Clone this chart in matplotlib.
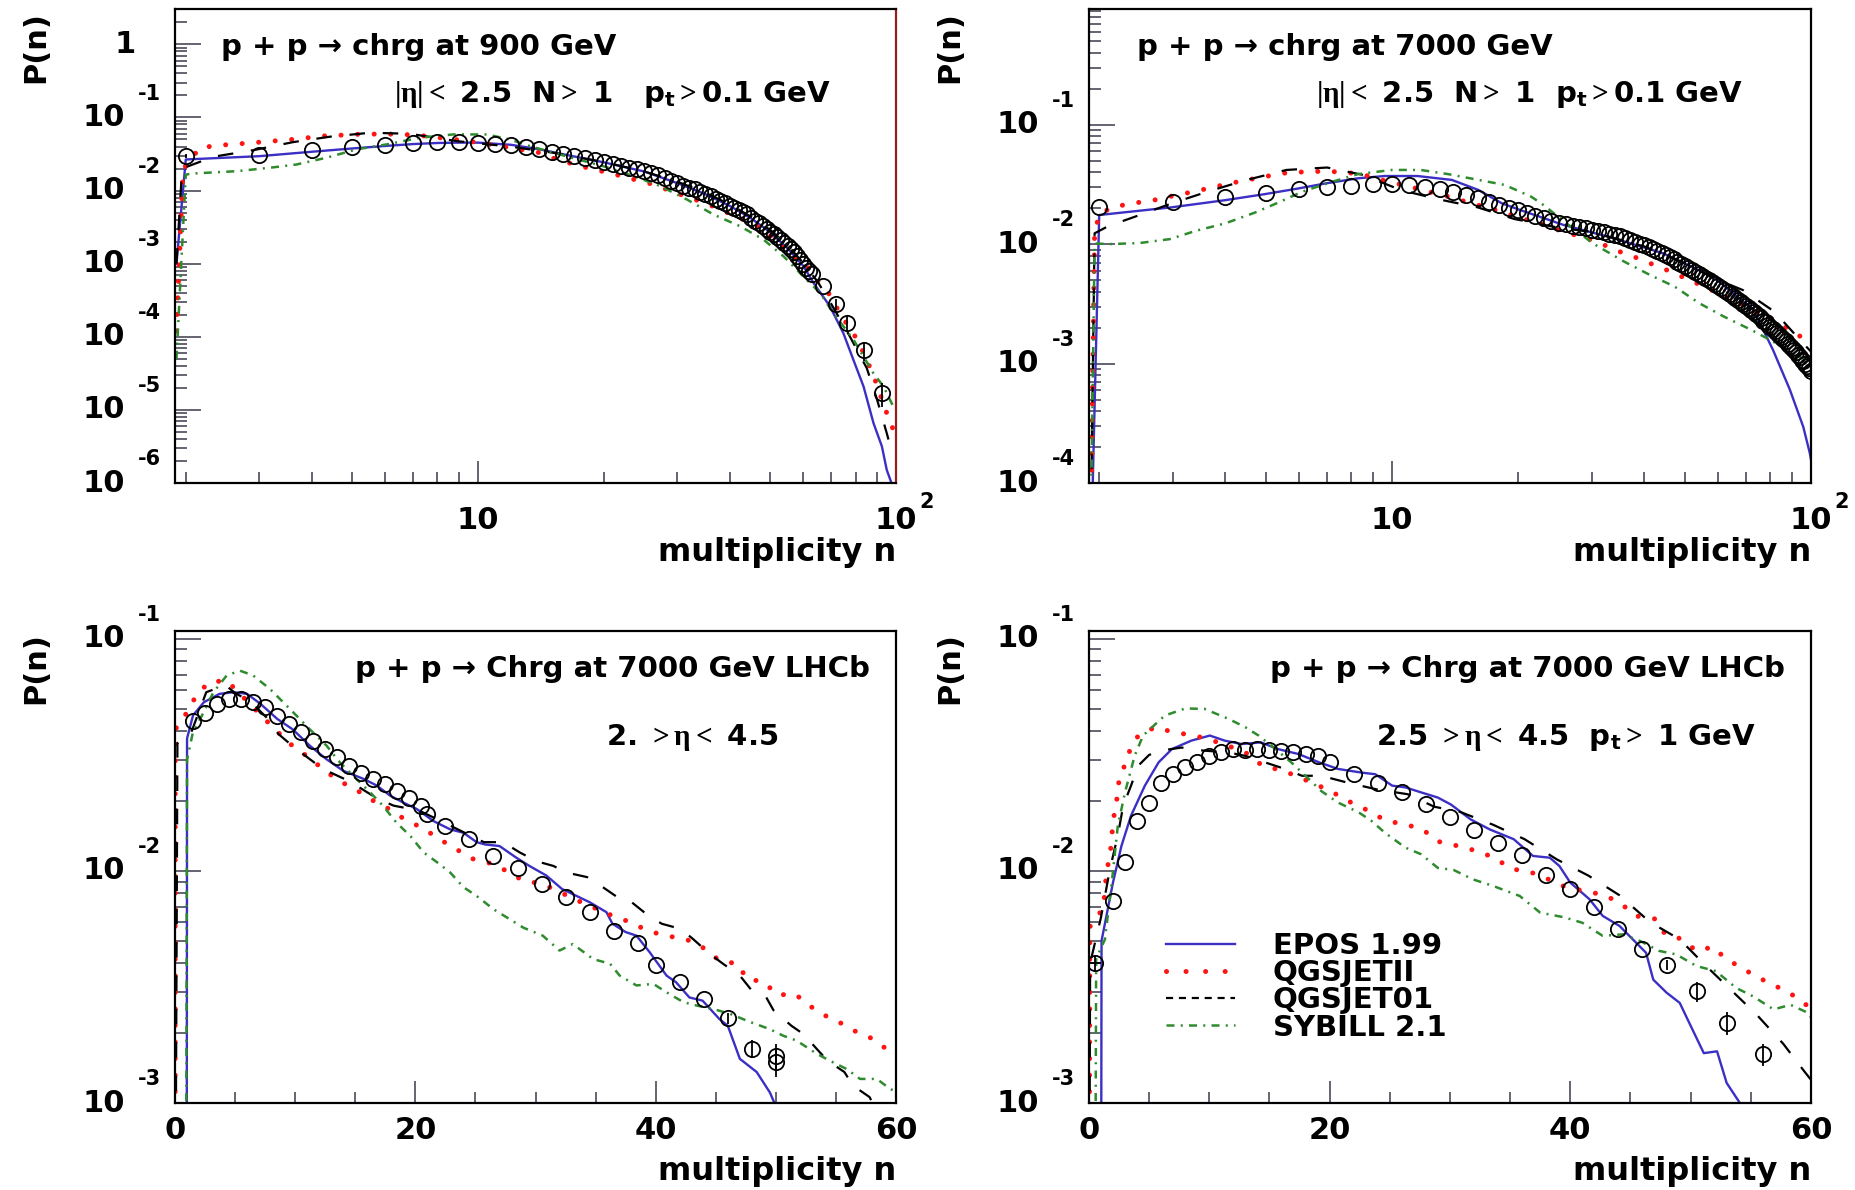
import matplotlib
matplotlib.use("Agg")
import matplotlib.pyplot as plt
from matplotlib.lines import Line2D
from matplotlib.ticker import FixedLocator, LogLocator, MultipleLocator, NullFormatter

plt.rcParams["font.family"] = ["DejaVu Sans"]
plt.rcParams["font.weight"] = "bold"
plt.rcParams["mathtext.fontset"] = "custom"
plt.rcParams["mathtext.rm"] = "Liberation Serif"
plt.rcParams["mathtext.it"] = "Liberation Serif"
plt.rcParams["mathtext.bf"] = "DejaVu Sans:bold"

# ---------------- top-left: p+p 900 GeV, |eta|<2.5 ----------------
tl_data_n = list(range(2, 64)) + [67, 72, 76.5, 83.6, 92.5]
tl_data_p = [0.0295, 0.0311, 0.0356, 0.0392, 0.0413, 0.0441, 0.0459, 0.0459, 0.0450, 0.0437,
             0.0413, 0.0398, 0.0365, 0.0339, 0.0313, 0.0295, 0.0277, 0.0260, 0.0244, 0.0232,
             0.0219, 0.0204, 0.0194, 0.0183, 0.0172, 0.0161, 0.0148, 0.0136, 0.0126, 0.0117,
             0.0110, 0.0105, 0.00955, 0.00891, 0.00832, 0.00776, 0.00724, 0.00676, 0.00617, 0.00569,
             0.00537, 0.00507, 0.00473, 0.00427, 0.00389, 0.00359, 0.00331, 0.00302, 0.00275, 0.00251,
             0.00229, 0.00209, 0.00191, 0.00174, 0.00158, 0.00145, 0.00129, 0.00112, 0.00100, 0.00087,
             0.00079, 0.00072, 0.00050, 0.00028, 0.000155, 0.000066, 0.000017]
tl_err_n = [2, 72, 76.5, 83.6, 92.5]
tl_err_p = [0.0295, 0.00028, 0.000155, 0.000066, 0.000017]
tl_err = [0.002, 0.00005, 0.00004, 0.00002, 0.000006]

tl_epos_n = [1.9, 2, 3, 4, 5, 6, 7, 8, 9, 10, 12, 14, 16, 20, 25, 30, 35, 40, 45, 50, 55, 60,
             63.4, 69.5, 74.8, 79.1, 83.6, 88.3, 92.5, 95, 98.2]
tl_epos_p = [1e-3, 0.0266, 0.0295, 0.0339, 0.0376, 0.0407, 0.0432, 0.0447, 0.0452, 0.0452, 0.0422,
             0.0367, 0.0313, 0.0243, 0.0182, 0.0126, 0.00891, 0.00617, 0.00417, 0.00269, 0.00162,
             0.00093, 0.00055, 0.00026, 0.000112, 4.79e-5, 2.09e-5, 6.6e-6, 3.16e-6, 1.51e-6, 8.9e-7]
tl_qgs2_n = [1.9, 1.97, 2.16, 2.42, 2.70, 3.01, 3.36, 3.75, 4.19, 4.68, 5.22, 5.83, 6.51, 7.27,
             9.06, 10.1, 11.3, 12.6, 14.1, 15.4, 18.0, 21.3, 23.7, 26.3, 29.0, 32.2, 35.6, 39.6,
             44.0, 48.1, 52.8, 56.8, 61.8, 65.3, 69.4, 73.3, 81.2, 88.2, 94.1, 96.9, 99.4]
tl_qgs2_p = [1.2e-4, 0.0194, 0.0385, 0.0417, 0.0437, 0.0459, 0.0484, 0.0510, 0.0555, 0.0571,
             0.0589, 0.0592, 0.0589, 0.0566, 0.0489, 0.0450, 0.0405, 0.0365, 0.0328, 0.0266,
             0.0209, 0.0166, 0.0141, 0.0121, 0.00977, 0.00794, 0.00646, 0.00495, 0.0038, 0.00295,
             0.00182, 0.00120, 0.00087, 0.00055, 0.000376, 0.000211, 8.71e-5, 3.02e-5, 1.05e-5,
             6.6e-6, 4.8e-6]
tl_qgs1_n = [1.9, 1.96, 2.33, 2.90, 3.61, 4.43, 5.52, 6.87, 8.9, 12, 15, 20, 25, 30, 35, 40, 45,
             50, 55, 60, 65, 70, 77.6, 85.1, 90, 95, 98]
tl_qgs1_p = [1e-3, 0.0200, 0.0290, 0.0356, 0.0459, 0.0545, 0.0617, 0.0597, 0.0474, 0.0398, 0.0331,
             0.0245, 0.0182, 0.0132, 0.00933, 0.00646, 0.00437, 0.00288, 0.00178, 0.00102, 0.00056,
             0.00028, 0.0001, 3.72e-5, 1.4e-5, 4.8e-6, 2.5e-6]
tl_syb_n = [1.9, 2.0, 2.08, 2.65, 3.18, 3.68, 4.34, 5.12, 6.04, 7.26, 8.71, 10.5, 11.9, 13.3, 16,
            20, 23.5, 27.3, 31.6, 36.6, 42.4, 48.2, 53.8, 60.0, 65.8, 70.8, 79.1, 88.3, 93.3, 98.5]
tl_syb_p = [5e-5, 0.0165, 0.0171, 0.0184, 0.0205, 0.0227, 0.0281, 0.0365, 0.0427, 0.0526, 0.0585,
            0.0585, 0.0501, 0.0405, 0.0302, 0.0214, 0.0158, 0.0115, 0.00754, 0.00469, 0.00324,
            0.00213, 0.00126, 0.00067, 0.000398, 0.000211, 9.12e-5, 3.16e-5, 2.09e-5, 1.11e-5]

# ---------------- top-right: p+p 7000 GeV, |eta|<2.5 ----------------
tr_data_n = list(range(2, 101))
tr_data_p = [0.0205, 0.0226, 0.0249, 0.0270, 0.0288, 0.0302, 0.0309, 0.0316, 0.0316, 0.0313,
             0.0302, 0.0288, 0.0274, 0.0257, 0.0241, 0.0226, 0.0212, 0.0200, 0.0191, 0.0181,
             0.0172, 0.0164, 0.0157, 0.0151, 0.0146, 0.0142, 0.0138, 0.0135, 0.0131, 0.0128,
             0.0125, 0.0122, 0.0120, 0.0116, 0.0112, 0.0108, 0.0105, 0.0101, 0.00977, 0.00940,
             0.00904, 0.00869, 0.00836, 0.00804, 0.00773, 0.00743, 0.00714, 0.00687, 0.00661, 0.00635,
             0.00611, 0.00587, 0.00565, 0.00543, 0.00522, 0.00502, 0.00483, 0.00465, 0.00447, 0.00430,
             0.00413, 0.00397, 0.00382, 0.00367, 0.00353, 0.00340, 0.00327, 0.00314, 0.00302, 0.00290,
             0.00279, 0.00268, 0.00258, 0.00248, 0.00239, 0.00229, 0.00221, 0.00212, 0.00204, 0.00196,
             0.00188, 0.00180, 0.00173, 0.00166, 0.00159, 0.00153, 0.00147, 0.00141, 0.00135, 0.00129,
             0.00124, 0.00118, 0.00113, 0.00108, 0.00104, 0.00099, 0.00095, 0.00091, 0.00087]

tr_epos_n = [1.9, 2, 2.98, 4.0, 4.98, 5.98, 6.95, 8.3, 9.6, 11.5, 13.9, 16.1, 18.3, 20.2, 25.6,
             33.8, 44.4, 58.4, 72.9, 81.2, 89.1, 95.9, 99.4, 100]
tr_epos_p = [1e-5, 0.0175, 0.0203, 0.0233, 0.0262, 0.0292, 0.0322, 0.0355, 0.0371, 0.0371, 0.0344,
             0.0283, 0.0219, 0.0193, 0.0145, 0.0112, 0.00836, 0.00532, 0.00282, 0.0013, 0.000603,
             0.000295, 0.000178, 0.000158]
tr_qgs2_n = [1.9, 1.95, 2.0, 2.14, 2.4, 2.7, 2.98, 3.3, 3.7, 4.1, 4.6, 5.1, 5.6, 6.3, 7.0, 7.9, 8.8,
             9.8, 10.8, 12.0, 13.4, 15.0, 16.6, 18.3, 20.4, 22.5, 25.0, 27.8, 30.8, 34.1, 37.8, 41.7,
             46.2, 50.8, 56.1, 61.9, 68.2, 74.3, 81.8, 89.6, 98.8, 100]
tr_qgs2_p = [1e-5, 0.0126, 0.0175, 0.0203, 0.0219, 0.0233, 0.0252, 0.0271, 0.0296, 0.0322, 0.0348,
             0.0373, 0.0395, 0.0403, 0.0407, 0.0395, 0.0371, 0.0332, 0.0308, 0.0279, 0.0254, 0.0226,
             0.0205, 0.0186, 0.0164, 0.0149, 0.0131, 0.0117, 0.0105, 0.00891, 0.00783, 0.00681,
             0.00589, 0.00507, 0.00435, 0.00367, 0.00315, 0.00268, 0.00231, 0.00187, 0.00154, 0.00151]
tr_qgs1_n = [1.9, 1.95, 2.1, 2.43, 2.98, 3.67, 4.5, 5.6, 7.0, 8.5, 10.5, 12.9, 16.0, 19.6, 24.7, 30,
             40, 50, 60, 68.8, 81.8, 94.1, 100]
tr_qgs1_p = [1e-5, 0.0123, 0.0141, 0.0169, 0.0219, 0.0278, 0.0344, 0.0417, 0.0437, 0.0380, 0.0283,
             0.0237, 0.0203, 0.0162, 0.0138, 0.0126, 0.00955, 0.00692, 0.00501, 0.00412, 0.00272,
             0.00158, 0.00126]
tr_syb_n = [1.9, 1.95, 2.14, 2.5, 2.95, 3.4, 4.0, 4.7, 5.3, 6.1, 7.2, 8.3, 10.0, 11.7, 13.6, 16.1,
            18.6, 21.5, 23.0, 26.1, 30.2, 35.8, 41.3, 47.3, 54.2, 62.0, 72.1, 81.4, 91.3, 98.8, 100]
tr_syb_p = [1e-5, 0.0101, 0.0100, 0.0102, 0.0110, 0.0129, 0.0149, 0.0183, 0.0219, 0.0274, 0.0332,
            0.0385, 0.0417, 0.0417, 0.0385, 0.0344, 0.0312, 0.0249, 0.0212, 0.0149, 0.0101, 0.00714,
            0.00551, 0.00440, 0.00319, 0.00247, 0.00191, 0.00152, 0.00117, 0.00107, 0.00105]

# ---------------- bottom-left: LHCb 2 < eta < 4.5 ----------------
bl_data_n = [1.5, 2.5, 3.5, 4.5, 5.5, 6.5, 7.5, 8.5, 9.5, 10.5, 11.5, 12.5, 13.5, 14.5, 15.5, 16.5,
             17.5, 18.5, 19.5, 20.5, 21.0, 22.5, 24.5, 26.5, 28.5, 30.5, 32.5, 34.5, 36.5, 38.5,
             40, 42, 44, 46, 48, 50, 50]
bl_data_p = [0.0444, 0.0480, 0.0524, 0.0550, 0.0550, 0.0533, 0.0507, 0.0467, 0.0430, 0.0395,
             0.0364, 0.0335, 0.0309, 0.0284, 0.0265, 0.0249, 0.0237, 0.0221, 0.0207, 0.0191,
             0.0176, 0.0156, 0.0137, 0.0116, 0.0103, 0.00879, 0.00771, 0.00668, 0.00553, 0.0049,
             0.00394, 0.00333, 0.00282, 0.00232, 0.00171, 0.0016, 0.0015]
bl_err_n = [46, 48, 50, 50]
bl_err_p = [0.00232, 0.00171, 0.0016, 0.0015]
bl_err = [0.00012, 0.00015, 0.0002, 0.0002]

bl_epos_n = [0.97, 1.0, 1.5, 2.4, 3.7, 4.85, 6.0, 7.1, 8.5, 9.8, 11.2, 12.6, 14.0, 15.7, 16.8, 17.9,
             19.0, 20.1, 21.5, 22.9, 24.0, 25.1, 25.8, 27.0, 28.4, 29.5, 30.9, 32.2, 34.5, 35.9,
             36.4, 37.5, 38.4, 39.5, 40.9, 41.7, 42.8, 43.9, 45.3, 46.0, 47.0, 48.4, 49.5, 50.3]
bl_epos_p = [1e-4, 0.0372, 0.0468, 0.0533, 0.0579, 0.0589, 0.0579, 0.0525, 0.0452, 0.0407,
             0.0347, 0.0303, 0.0270, 0.0249, 0.0233, 0.0211, 0.0197, 0.0185, 0.0164, 0.0151,
             0.0146, 0.0133, 0.0130, 0.0128, 0.0114, 0.0105, 0.00955, 0.00836, 0.00733, 0.00664,
             0.00592, 0.00545, 0.00526, 0.00446, 0.00354, 0.00331, 0.00285, 0.00276, 0.00230,
             0.00215, 0.00155, 0.00136, 0.00111, 0.00089]
bl_qgs2_n = [0, 0.02, 1.0, 1.7, 2.8, 4.3, 5.4, 7.6, 9.5, 11.1, 12.3, 13.6, 15.0, 16.4, 17.8, 19.1,
             20.7, 21.9, 23.3, 24.7, 26.2, 27.6, 29.0, 30.6, 33.5, 36.4, 37.9, 39.3, 40.8, 42.5,
             44.0, 45.3, 46.8, 47.6, 49.0, 50.1, 51.6, 52.6, 53.8, 55.2, 56.5, 57.8, 59.2, 60]
bl_qgs2_p = [1e-4, 0.0407, 0.0482, 0.0562, 0.0650, 0.0661, 0.0579, 0.0444, 0.0355, 0.0309,
             0.0275, 0.0245, 0.0225, 0.0202, 0.0185, 0.0167, 0.0152, 0.0138, 0.0125, 0.0113,
             0.0108, 0.0100, 0.00906, 0.00879, 0.00745, 0.00641, 0.00601, 0.00553, 0.00526, 0.00509,
             0.00465, 0.00411, 0.00398, 0.00342, 0.00333, 0.00292, 0.00295, 0.00267, 0.00242,
             0.00224, 0.00205, 0.00192, 0.00171, 0.00166]
bl_qgs1_n = [0, 0.2, 1.25, 2.6, 4.2, 5.1, 6.2, 7.6, 8.6, 9.9, 11.0, 12.3, 14.1, 15.1, 16.9, 18.2,
             20.3, 21.5, 25.7, 27.3, 28.7, 30.1, 31.5, 32.5, 34.3, 35.4, 36.8, 38.0, 39.2, 40.5,
             42.1, 43.1, 44.5, 45.6, 47.0, 48.0, 49.2, 49.8, 51.3, 52.3, 53.4, 54.3, 55.7, 56.4,
             57.8, 58.5]
bl_qgs1_p = [1e-4, 0.0355, 0.0383, 0.0589, 0.0631, 0.0579, 0.0542, 0.0459, 0.0389, 0.0341,
             0.0309, 0.0275, 0.0249, 0.0233, 0.0204, 0.0191, 0.0182, 0.0170, 0.0133, 0.0133,
             0.0120, 0.0110, 0.0105, 0.00986, 0.00940, 0.00865, 0.00771, 0.00733, 0.00653, 0.00592,
             0.00562, 0.00509, 0.00439, 0.00398, 0.00354, 0.00305, 0.00285, 0.00251, 0.00215,
             0.00198, 0.00171, 0.00152, 0.00136, 0.00119, 0.00106, 0.00089]
bl_syb_n = [0.9, 1.0, 1.5, 2.1, 3.2, 4.3, 5.4, 6.5, 7.9, 9.0, 10.1, 11.2, 12.6, 13.7, 15.1, 16.2,
            17.3, 18.4, 19.6, 20.7, 21.8, 22.9, 24.0, 25.1, 26.5, 27.9, 29.0, 30.6, 32.0, 33.1,
            34.8, 36.2, 37.0, 38.4, 39.8, 40.9, 42.3, 43.4, 44.8, 46.2, 47.9, 49.5, 50.6, 51.7,
            53.4, 54.5, 55.9, 57.0, 58.4, 59.5, 60]
bl_syb_p = [1e-4, 0.0302, 0.0398, 0.0452, 0.0589, 0.0695, 0.0729, 0.0695, 0.0608, 0.0533,
            0.0467, 0.0408, 0.0347, 0.0294, 0.0249, 0.0219, 0.0191, 0.0162, 0.0141, 0.0120,
            0.0109, 0.00984, 0.00851, 0.00780, 0.00684, 0.00617, 0.00569, 0.00526, 0.00454, 0.00484,
            0.00417, 0.00398, 0.00354, 0.00321, 0.00326, 0.00300, 0.00272, 0.00263, 0.00254,
            0.00242, 0.00223, 0.00208, 0.00195, 0.00186, 0.00163, 0.00152, 0.00140, 0.00127,
            0.00127, 0.00115, 0.00112]

# ---------------- bottom-right: LHCb 2.5 < eta < 4.5, pt > 1 GeV ----------------
br_data_n = [0.5, 2, 3, 4, 5, 6, 7, 8, 9, 10, 11, 12, 13, 14, 15, 16, 17, 18, 19, 20,
             22, 24, 26, 28, 30, 32, 34, 36, 38, 40, 42, 44, 46, 48, 50.5, 53, 56]
br_data_p = [0.00402, 0.00741, 0.0109, 0.0164, 0.0197, 0.0240, 0.0261, 0.0279, 0.0295, 0.0313,
             0.0324, 0.0335, 0.0333, 0.0335, 0.0331, 0.0329, 0.0326, 0.0319, 0.0313, 0.0294,
             0.0261, 0.0240, 0.0219, 0.0194, 0.0170, 0.0150, 0.0132, 0.0117, 0.00957, 0.00832,
             0.00700, 0.00560, 0.00459, 0.00395, 0.00303, 0.00221, 0.00162]
br_err_n = [0.5, 48, 50.5, 53, 56]
br_err_p = [0.00402, 0.00395, 0.00303, 0.00221, 0.00162]
br_err = [0.0003, 0.0002, 0.0003, 0.00025, 0.00018]
br_xerr = [0.5, 0, 0, 0, 0]

br_epos_n = [1.0, 1.05, 2.0, 2.7, 3.5, 4.65, 5.8, 6.9, 8.5, 10.05, 11.3, 12.7, 14.3, 15.7, 17.4,
             19.1, 20.7, 22.7, 23.8, 25.2, 26.3, 27.6, 29.0, 30.1, 31.7, 33.3, 35.3, 36.9, 38.3,
             39.1, 40.0, 41.6, 42.7, 44.1, 45.2, 46.3, 46.9, 48.0, 49.1, 49.9, 51.1, 52.2, 53.0,
             54.1, 54.6]
br_epos_p = [1e-4, 0.0050, 0.00891, 0.0128, 0.0173, 0.0233, 0.0294, 0.0335, 0.0364, 0.0383,
             0.0364, 0.0352, 0.0358, 0.0335, 0.0319, 0.0294, 0.0275, 0.0265, 0.0261, 0.0233,
             0.0229, 0.0218, 0.0207, 0.0193, 0.0167, 0.0151, 0.0137, 0.0116, 0.0114, 0.0105,
             0.00891, 0.00755, 0.00640, 0.00579, 0.00507, 0.00444, 0.00340, 0.00299, 0.00270,
             0.00221, 0.00164, 0.00167, 0.00122, 0.0010, 0.00087]
br_qgs2_n = [0, 0.08, 1.2, 1.47, 1.75, 1.9, 2.0, 2.3, 2.4, 2.9, 3.4, 4.1, 5.5, 7.1, 8.8, 11.0,
             13.0, 14.5, 16.0, 17.5, 19.1, 20.4, 21.8, 23.4, 24.7, 26.3, 27.8, 29.0, 30.7, 32.2,
             33.7, 35.1, 36.6, 38.2, 39.7, 41.2, 42.9, 44.3, 45.4, 47.0, 47.9, 49.2, 50.5, 51.9,
             52.8, 54.2, 55.5, 56.8, 58.2, 59.6, 60]
br_qgs2_p = [1e-4, 0.00575, 0.00692, 0.0100, 0.0116, 0.0139, 0.0164, 0.0197, 0.0233, 0.0279,
             0.0330, 0.0383, 0.0416, 0.0395, 0.0383, 0.0355, 0.0324, 0.0282, 0.0272, 0.0253,
             0.0233, 0.0216, 0.0197, 0.0180, 0.0164, 0.0159, 0.0150, 0.0134, 0.0128, 0.0122,
             0.0114, 0.0102, 0.00993, 0.00920, 0.00847, 0.00820, 0.00785, 0.00718, 0.00640,
             0.00622, 0.00533, 0.00510, 0.00452, 0.00471, 0.00423, 0.00383, 0.00350, 0.00324,
             0.00299, 0.00265, 0.00263]
br_qgs1_n = [0, 0.1, 1.0, 1.75, 2.4, 2.85, 3.5, 4.1, 5.0, 6.0, 7.7, 9.5, 11.6, 13.0, 14.5, 16.3,
             17.7, 19.3, 21.5, 24.0, 26.5, 28.7, 30.8, 33.6, 36.2, 38.9, 41.5, 44.1, 46.6, 49.1,
             51.1, 53.3, 55.5, 57.7, 59.4, 60]
br_qgs1_p = [1e-4, 0.0040, 0.0063, 0.0102, 0.0142, 0.0191, 0.0233, 0.0284, 0.0316, 0.0330,
             0.0340, 0.0330, 0.0324, 0.0313, 0.0295, 0.0275, 0.0257, 0.0257, 0.0240, 0.0224,
             0.0214, 0.0189, 0.0180, 0.0158, 0.0137, 0.0112, 0.00955, 0.00785, 0.00603, 0.00507,
             0.00398, 0.00309, 0.00240, 0.00180, 0.00138, 0.00126]
br_syb_n = [0.5, 0.6, 1.33, 1.9, 2.4, 3.0, 3.8, 4.5, 6.3, 8.0, 9.6, 11.6, 13.0, 14.1, 15.5, 16.8,
            18.0, 19.3, 20.7, 22.4, 23.5, 24.6, 26.3, 27.6, 29.0, 30.3, 31.9, 33.6, 35.8, 37.5,
            39.5, 41.0, 42.7, 44.4, 45.8, 47.4, 48.8, 50.5, 52.1, 53.8, 55.2, 56.9, 58.3, 59.8, 60]
br_syb_p = [1e-4, 0.00417, 0.00507, 0.00891, 0.0156, 0.0218, 0.0313, 0.0383, 0.0467, 0.0501,
            0.0499, 0.0452, 0.0416, 0.0383, 0.0335, 0.0294, 0.0257, 0.0221, 0.0197, 0.0179,
            0.0164, 0.0146, 0.0126, 0.0118, 0.0103, 0.0101, 0.00920, 0.00861, 0.00780, 0.00661,
            0.00631, 0.00598, 0.00525, 0.00533, 0.00499, 0.00452, 0.00437, 0.00389, 0.00370,
            0.00313, 0.00288, 0.00253, 0.00265, 0.00244, 0.00234]

model_names = ["EPOS 1.99", "QGSJETII", "QGSJET01", "SYBILL 2.1"]

# ---------------- styles ----------------
TICK = "#3a3a4a"
STY = [
    dict(color="#3b2fc4", lw=1.7, ls="-"),
    dict(color="#ff1414", lw=3.6, ls=(0, (0.01, 3.3)), dash_capstyle="round"),
    dict(color="black", lw=1.6, ls=(0, (7, 8))),
    dict(color="#2e8b2e", lw=1.8, ls=(0, (3.2, 2.5, 0.8, 2.5))),
]
LEG_STY = [
    dict(color="#3b2fc4", lw=1.7, ls="-"),
    dict(color="#ff1414", lw=3.6, ls=(0, (0.01, 3.9)), dash_capstyle="round"),
    dict(color="black", lw=1.6, ls=(0, (3.2, 2.6))),
    dict(color="#2e8b2e", lw=1.8, ls=(0, (3.2, 2.5, 0.8, 2.5))),
]


def frame(ax, logx, xlim, ylim):
    ax.set_yscale("log")
    if logx:
        ax.set_xscale("log")
        ax.xaxis.set_major_locator(FixedLocator([10, 100]))
        ax.xaxis.set_minor_locator(LogLocator(base=10, subs=range(2, 10), numticks=20))
        ax.xaxis.set_major_formatter(NullFormatter())
        ax.xaxis.set_minor_formatter(NullFormatter())
    else:
        ax.xaxis.set_major_locator(MultipleLocator(20))
        ax.xaxis.set_minor_locator(MultipleLocator(5))
        ax.tick_params(axis="x", labelsize=22, pad=9)
    ax.set_xlim(*xlim)
    ax.set_ylim(*ylim)
    ax.yaxis.set_major_locator(LogLocator(base=10, numticks=20))
    ax.yaxis.set_minor_locator(LogLocator(base=10, subs=range(2, 10), numticks=20))
    ax.yaxis.set_major_formatter(NullFormatter())
    ax.yaxis.set_minor_formatter(NullFormatter())
    ax.tick_params(which="both", direction="in", top=False, right=False, color=TICK, width=1.1)
    ax.tick_params(axis="y", which="major", length=19)
    ax.tick_params(axis="y", which="minor", length=8.5)
    ax.tick_params(axis="x", which="major", length=16)
    ax.tick_params(axis="x", which="minor", length=8)
    for s in ax.spines.values():
        s.set_linewidth(1.6)
    ax.text(-0.193, 0.997, "P(n)", transform=ax.transAxes, rotation=90, ha="center", va="top",
            fontsize=22)
    ax.text(1.0, -0.146, "multiplicity n", transform=ax.transAxes, ha="right", va="center",
            fontsize=23)


def ylabels(ax, decades):
    for d in decades:
        kw = dict(xycoords=("axes fraction", "data"), textcoords="offset points",
                  va="center", ha="right", annotation_clip=False)
        if d == 0:
            ax.annotate("1", xy=(0, 1.0), xytext=(-28, 0), fontsize=22, **kw)
        else:
            ax.annotate("10", xy=(0, 10.0 ** d), xytext=(-36, 0), fontsize=22, **kw)
            ax.annotate(str(d), xy=(0, 10.0 ** d), xytext=(-10, 17), fontsize=15, **kw)


def xlabels_log(ax):
    kw = dict(xycoords=("data", "axes fraction"), textcoords="offset points",
              va="center", ha="center", annotation_clip=False)
    ax.annotate("10", xy=(10, 0), xytext=(0, -27), fontsize=22, **kw)
    ax.annotate("10", xy=(100, 0), xytext=(0, -27), fontsize=22, **kw)
    ax.annotate("2", xy=(100, 0), xytext=(22, -14), fontsize=15, **kw)


def draw(ax, models, dn, dp, en, ep, ey, ex=None):
    for (n, p), st in zip(models, STY):
        ax.plot(n, p, zorder=2, **st)
    ax.plot(dn, dp, "o", ms=11, mfc="none", mec="black", mew=1.3, zorder=3)
    ax.errorbar(en, ep, yerr=ey, xerr=ex, fmt="none", ecolor="black", elinewidth=1.3,
                capsize=0, zorder=3)


fig = plt.figure(figsize=(18.56, 11.90), dpi=100)
ax_tl = fig.add_axes([0.0943, 0.5941, 0.3885, 0.3980])
ax_tr = fig.add_axes([0.5867, 0.5941, 0.3890, 0.3980])
ax_bl = fig.add_axes([0.0943, 0.0731, 0.3885, 0.3966])
ax_br = fig.add_axes([0.5867, 0.0731, 0.3890, 0.3966])

# top-left
draw(ax_tl, [(tl_epos_n, tl_epos_p), (tl_qgs2_n, tl_qgs2_p), (tl_qgs1_n, tl_qgs1_p),
             (tl_syb_n, tl_syb_p)], tl_data_n, tl_data_p, tl_err_n, tl_err_p, tl_err)
frame(ax_tl, True, (1.885, 100), (1e-6, 3.0))
ylabels(ax_tl, [0, -1, -2, -3, -4, -5, -6])
xlabels_log(ax_tl)
ax_tl.spines["right"].set_color("#9a1c1c")
ax_tl.text(0.064, 0.92, "p + p \u2192 chrg at 900 GeV", transform=ax_tl.transAxes,
           ha="left", va="center", fontsize=21)
ax_tl.text(0.304, 0.82, r"$|\eta| <$ 2.5  N$>$ 1   $\mathbf{p_t}>$0.1 GeV",
           transform=ax_tl.transAxes, ha="left", va="center", fontsize=21)

# top-right
draw(ax_tr, [(tr_epos_n, tr_epos_p), (tr_qgs2_n, tr_qgs2_p), (tr_qgs1_n, tr_qgs1_p),
             (tr_syb_n, tr_syb_p)], tr_data_n, tr_data_p, [], [], [])
frame(ax_tr, True, (1.89, 100), (1e-4, 0.92))
ylabels(ax_tr, [-1, -2, -3, -4])
xlabels_log(ax_tr)
ax_tr.text(0.066, 0.92, "p + p \u2192 chrg at 7000 GeV", transform=ax_tr.transAxes,
           ha="left", va="center", fontsize=21)
ax_tr.text(0.315, 0.82, r"$|\eta| <$ 2.5  N$>$ 1  $\mathbf{p_t}>$0.1 GeV",
           transform=ax_tr.transAxes, ha="left", va="center", fontsize=21)

# bottom-left
draw(ax_bl, [(bl_epos_n, bl_epos_p), (bl_qgs2_n, bl_qgs2_p), (bl_qgs1_n, bl_qgs1_p),
             (bl_syb_n, bl_syb_p)], bl_data_n, bl_data_p, bl_err_n, bl_err_p, bl_err)
frame(ax_bl, False, (0, 60), (1e-3, 0.108))
ylabels(ax_bl, [-1, -2, -3])
ax_bl.text(0.25, 0.92, "p + p \u2192 Chrg at 7000 GeV LHCb", transform=ax_bl.transAxes,
           ha="left", va="center", fontsize=21)
ax_bl.text(0.598, 0.774, r"2. $> \eta <$ 4.5", transform=ax_bl.transAxes,
           ha="left", va="center", fontsize=21)

# bottom-right
draw(ax_br, [(br_epos_n, br_epos_p), (br_qgs2_n, br_qgs2_p), (br_qgs1_n, br_qgs1_p),
             (br_syb_n, br_syb_p)], br_data_n, br_data_p, br_err_n, br_err_p, br_err, br_xerr)
frame(ax_br, False, (0, 60), (1e-3, 0.108))
ylabels(ax_br, [-1, -2, -3])
ax_br.text(0.251, 0.92, "p + p \u2192 Chrg at 7000 GeV LHCb", transform=ax_br.transAxes,
           ha="left", va="center", fontsize=21)
ax_br.text(0.398, 0.774, r"2.5 $> \eta <$ 4.5  $\mathbf{p_t} >$ 1 GeV",
           transform=ax_br.transAxes, ha="left", va="center", fontsize=21)
handles = [Line2D([], [], **st) for st in LEG_STY]
ax_br.legend(handles, model_names, loc="upper left", bbox_to_anchor=(0.107, 0.362),
             frameon=False, fontsize=21, handlelength=2.35, handletextpad=1.3,
             labelspacing=-0.03, borderpad=0, borderaxespad=0)

fig.savefig("out.png", dpi=100)
